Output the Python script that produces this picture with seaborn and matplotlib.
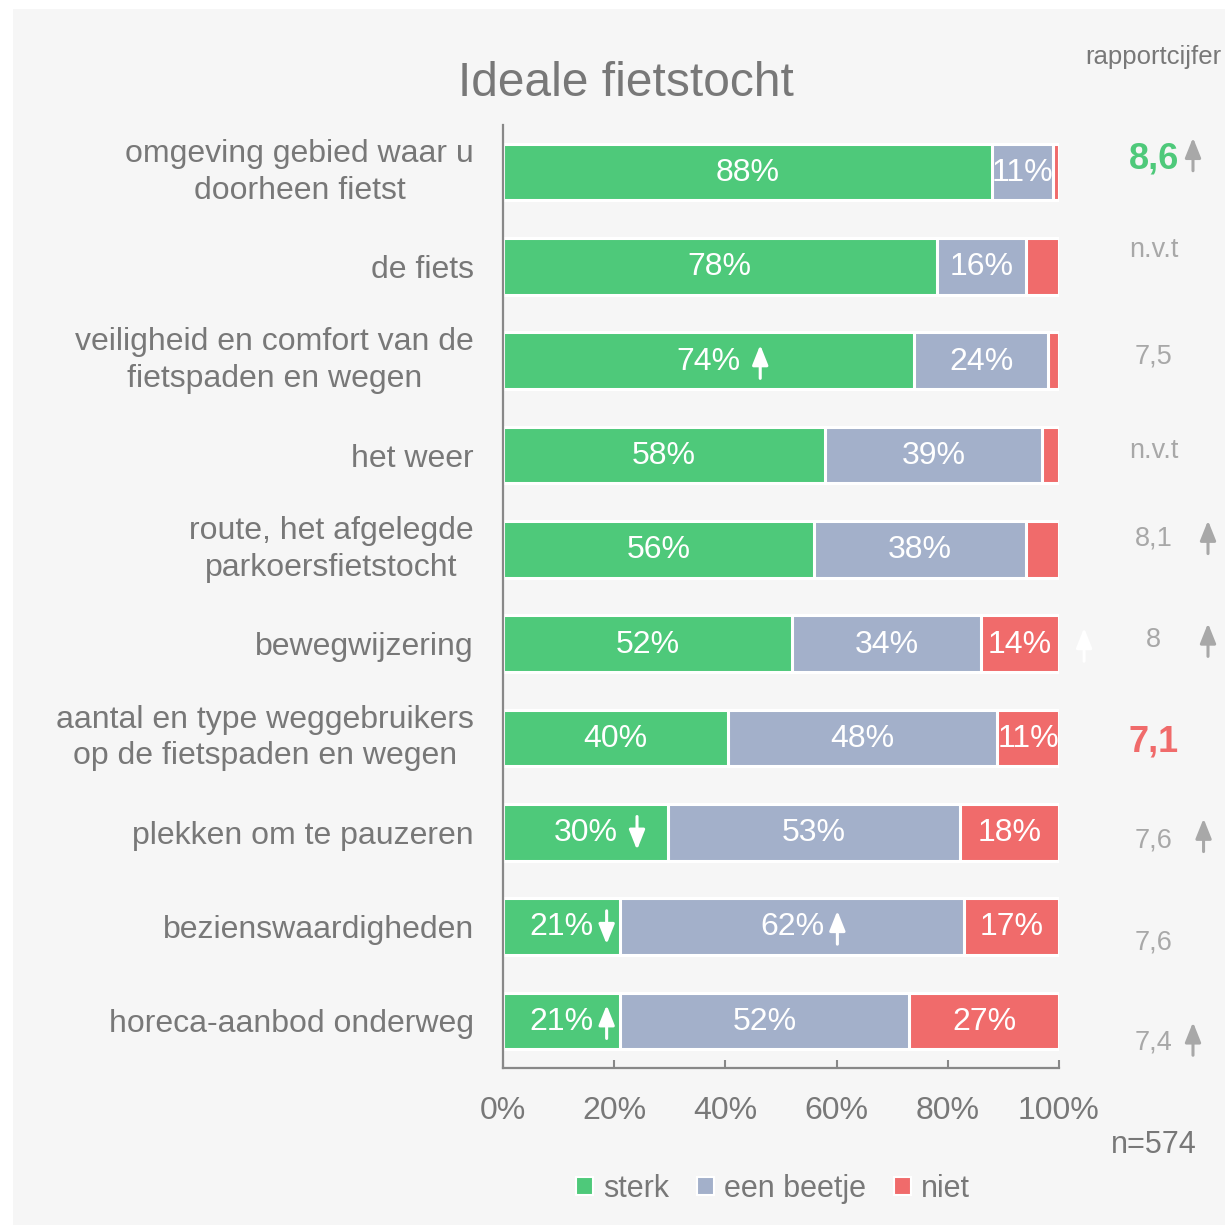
import numpy as np
import pandas as pd
import seaborn as sns
import matplotlib.pyplot as plt
from matplotlib.patches import Rectangle, Patch
from matplotlib.text import OffsetFrom

items = [
    "omgeving gebied waar u\ndoorheen fietst",
    "de fiets",
    "veiligheid en comfort van de\nfietspaden en wegen",
    "het weer",
    "route, het afgelegde\nparkoersfietstocht",
    "bewegwijzering",
    "aantal en type weggebruikers\nop de fietspaden en wegen",
    "plekken om te pauzeren",
    "bezienswaardigheden",
    "horeca-aanbod onderweg",
]
sterk = [88, 78, 74, 58, 56, 52, 40, 30, 21, 21]
beetje = [11, 16, 24, 39, 38, 34, 48, 53, 62, 52]
niet = [1, 6, 2, 3, 6, 14, 11, 18, 17, 27]

# trend arrows inside the bars ("" = none, leading spaces = wider gap)
trend_sterk = ["", "", " ↑", "", "", "", "", " ↓", "↓", "↑"]
trend_beetje = ["", "", "", "", "", "", "", "", "↑", ""]
trend_niet = ["", "", "", "", "", "   ↑", "", "", "", ""]

rapport = ["8,6", "n.v.t", "7,5", "n.v.t", "8,1", "8", "7,1", "7,6", "7,6", "7,4"]
rapport_trend = ["↑", "", "", "", "↑", "↑", "", "↑", "", "↑"]
n_label = "n=574"

GREEN = "#4ec97a"
BLUE = "#a3b0ca"
RED = "#f06b6b"
TXT = "#787878"
LIGHT = "#a8a8a8"
BG = "#f6f6f6"

# layout tweaks for the rapportcijfer column (rows, not data)
rap_dy = [-0.14, -0.17, -0.05, -0.04, -0.11, -0.04, 0.04, 0.09, 0.17, 0.23]
rap_ax = [124.1, 0, 0, 0, 126.8, 126.8, 0, 126.0, 0, 124.1]
rap_ay = [-0.19, 0, 0, 0, -0.13, -0.04, 0, 0.03, 0, 0.19]

ARROW = dict(arrowstyle="-|>,head_length=0.6,head_width=0.24", lw=2.2,
             mutation_scale=20, shrinkA=0, shrinkB=0)


def arrow_after(ax, t, trend, color):
    # arrow drawn right of a text label, centred on its mid line
    gap = 9.5 + 4.5 * (len(trend) - len(trend.lstrip()))
    up = trend.strip() == "↑"
    ref = OffsetFrom(t, (1, 0.5), unit="points")
    y0, y1 = (-12, 12) if up else (12, -12)
    ax.annotate("", xy=(gap, y1), xycoords=ref, xytext=(gap, y0), textcoords=ref,
                arrowprops=dict(ARROW, color=color), annotation_clip=False)


def main():
    sns.set_theme(style="white")
    plt.rcParams["font.family"] = ["Liberation Sans", "DejaVu Sans"]

    df = pd.DataFrame({"item": items, "sterk": sterk, "beetje": beetje, "niet": niet})
    tot = df[["sterk", "beetje", "niet"]].sum(axis=1)
    for c in ["sterk", "beetje", "niet"]:
        df[c + "_p"] = df[c] / tot * 100
    df["c1"] = df["sterk_p"]
    df["c2"] = df["c1"] + df["beetje_p"]
    df["c3"] = df["c2"] + df["niet_p"]

    fig = plt.figure(figsize=(12.25, 12.25), dpi=100, facecolor="white")
    fig.patches.append(Rectangle((13 / 1225, 0), 1, 1 - 9 / 1225, transform=fig.transFigure,
                                 facecolor=BG, edgecolor="none", zorder=-10))
    ax = fig.add_axes([503 / 1225, 1 - 1068 / 1225, 556 / 1225, (1068 - 125) / 1225])
    ax.set_facecolor(BG)

    for col, colr in [("c3", RED), ("c2", BLUE), ("c1", GREEN)]:
        sns.barplot(data=df, x=col, y="item", orient="h", color=colr, saturation=1,
                    width=0.6, edgecolor="white", linewidth=2.2, ax=ax)

    # segment labels
    segs = [("sterk", "sterk_p", 0, trend_sterk), ("beetje", "beetje_p", "c1", trend_beetje),
            ("niet", "niet_p", "c2", trend_niet)]
    for name, pcol, lcol, trends in segs:
        for i, row in df.iterrows():
            val = row[name]
            if val < 10:
                continue
            left = 0 if lcol == 0 else row[lcol]
            xc = left + row[pcol] / 2
            t = ax.text(xc, i + 0.01, f"{val}%", ha="center", va="center", color="white",
                        fontsize=23)
            if trends[i]:
                arrow_after(ax, t, trends[i], "white")

    # rapportcijfer column
    for i, r in enumerate(rapport):
        if r == "8,6":
            kw = dict(color=GREEN, fontweight="bold", fontsize=26)
        elif r == "7,1":
            kw = dict(color=RED, fontweight="bold", fontsize=26)
        else:
            kw = dict(color=LIGHT, fontsize=19.5)
        ax.text(117, i + rap_dy[i], r, ha="center", va="center", clip_on=False, **kw)
        if rapport_trend[i]:
            yc = i + rap_ay[i]
            ax.annotate("", xy=(rap_ax[i], yc - 0.175), xytext=(rap_ax[i], yc + 0.175),
                        xycoords="data", textcoords="data", annotation_clip=False,
                        arrowprops=dict(ARROW, color=LIGHT))

    ax.set_xlim(0, 100)
    ax.set_ylim(9.5, -0.5)
    ax.set_xticks(np.arange(0, 101, 20))
    ax.set_xticklabels([f"{v}%" for v in range(0, 101, 20)])
    ax.set_yticks(range(len(items)))
    ax.set_yticklabels(items, multialignment="center", linespacing=1.3)
    for lab in ax.get_yticklabels():
        if "\n" in lab.get_text():
            lab.set_verticalalignment("center")
    ax.set_xlabel("")
    ax.set_ylabel("")
    ax.tick_params(axis="y", length=0, pad=21, labelsize=23, labelcolor=TXT)
    ax.tick_params(axis="x", direction="in", length=6, width=1.5, color="#888888",
                   pad=20, labelsize=23, labelcolor=TXT, bottom=True)
    for s in ["top", "right"]:
        ax.spines[s].set_visible(False)
    for s in ["left", "bottom"]:
        ax.spines[s].set_color("#888888")
        ax.spines[s].set_linewidth(1.6)

    fig.text(626 / 1225, 1 - 84 / 1225, "Ideale fietstocht", ha="center", va="center",
             fontsize=34.5, color=TXT)
    fig.text(1221 / 1225, 1 - 57 / 1225, "rapportcijfer", ha="right", va="center",
             fontsize=18.5, color=TXT)
    fig.text(1197 / 1225, 1 - 1145 / 1225, n_label, ha="right", va="center",
             fontsize=22, color=TXT)

    handles = [Patch(facecolor=c, edgecolor="white", linewidth=1.5) for c in (GREEN, BLUE, RED)]
    fig.legend(handles, ["sterk", "een beetje", "niet"], loc="center",
               bbox_to_anchor=(773 / 1225, 1 - 1189 / 1225), ncol=3, frameon=False,
               fontsize=22, labelcolor=TXT, handlelength=0.55, handleheight=0.55,
               handletextpad=0.35, columnspacing=0.9)

    fig.savefig("out.png", dpi=100, facecolor="white")


if __name__ == "__main__":
    main()
